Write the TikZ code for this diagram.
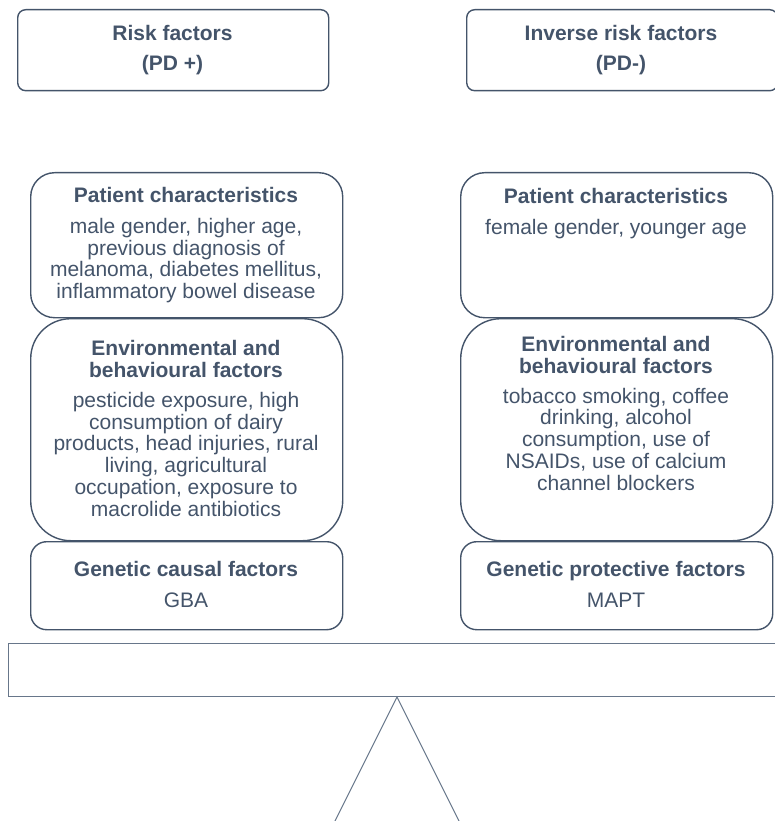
\documentclass[tikz,border=0pt]{standalone}
\usepackage{fontspec}
\setmainfont{Liberation Sans}
\definecolor{ink}{HTML}{44546A}
\definecolor{beamc}{HTML}{67768A}
\begin{document}
\begin{tikzpicture}[x=1pt,y=-1pt,
  box/.style={draw=ink, line width=1.4pt, inner sep=0pt, anchor=north west, minimum width=312pt},
  topbox/.style={box, rounded corners=8pt, minimum width=311pt, minimum height=81pt},
  patbox/.style={box, rounded corners=24pt, minimum height=145pt},
  envbox/.style={box, rounded corners=40pt, minimum height=222pt},
  genbox/.style={box, rounded corners=16pt, minimum height=88pt},
  txt/.style={text=ink, align=center, anchor=base, inner sep=0pt, font=\fontsize{21}{21.7}\selectfont},
  beamline/.style={draw=beamc, line width=1pt},
]
\useasboundingbox (0,0) rectangle (775,821);
\clip (0,0) rectangle (775,821);

% top boxes
\node[topbox] (tl) at (17,9) {};
\node[topbox] (tr) at (466,9) {};
\node[txt] (tlt) at (172.5,71) {\bfseries Risk factors\\[8.3pt]\bfseries (PD +)};
\node[txt] (trt) at (621,71) {\bfseries Inverse risk factors\\[8.3pt]\bfseries (PD-)};

% left column
\node[patbox] (pl) at (30,172) {};
\node[envbox] (el) at (30,318) {};
\node[genbox] (gl) at (30,541) {};
\node[txt] (plt) at (186,298.5) {\bfseries Patient characteristics\\[8.8pt]
  male gender, higher age,\\ previous diagnosis of\\ melanoma, diabetes mellitus,\\ inflammatory bowel disease};
\node[txt] (elt) at (186,516) {\bfseries Environmental and\\ \bfseries behavioural factors\\[8.8pt]
  pesticide exposure, high\\ consumption of dairy\\ products, head injuries, rural\\ living, agricultural\\ occupation, exposure to\\ macrolide antibiotics};
\node[txt] (glt) at (186,607) {\bfseries Genetic causal factors\\[8.6pt] GBA};

% right column
\node[patbox] (pr) at (460,172) {};
\node[envbox] (er) at (460,318) {};
\node[genbox] (gr) at (460,541) {};
\node[txt] (prt) at (616,234) {\bfseries Patient characteristics\\[8.8pt]
  female gender, younger age};
\node[txt] (ert) at (616,490) {\bfseries Environmental and\\ \bfseries behavioural factors\\[8.3pt]
  tobacco smoking, coffee\\ drinking, alcohol\\ consumption, use of\\ NSAIDs, use of calcium\\ channel blockers};
\node[txt] (grt) at (616,607) {\bfseries Genetic protective factors\\[8.6pt] MAPT};

% balance beam and fulcrum
\node[beamline, inner sep=0pt, anchor=north west, minimum width=790pt, minimum height=53pt] (beam) at (8,643) {};
\coordinate (apex) at (397,697);
\coordinate (bl) at (330.5,830);
\coordinate (br) at (463.5,830);
\draw[beamline] (bl) -- (apex) -- (br);
\end{tikzpicture}
\end{document}
